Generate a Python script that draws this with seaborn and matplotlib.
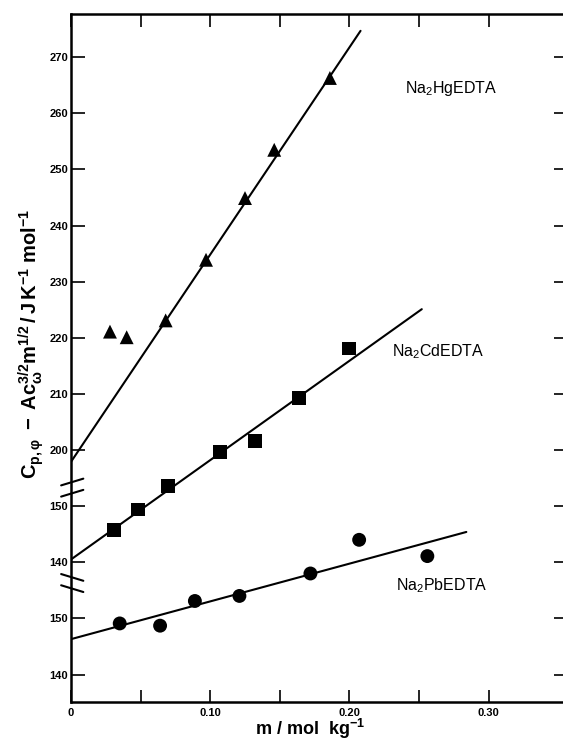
import numpy as np
import pandas as pd
import seaborn as sns
import matplotlib.pyplot as plt
from matplotlib.ticker import FixedLocator, NullFormatter

# data (m in mol/kg, Cp values on each series' own scale)
hg_m = [0.028, 0.040, 0.068, 0.097, 0.125, 0.146, 0.186]
hg_cp = [221.1, 220.1, 223.1, 233.9, 244.9, 253.5, 266.3]
cd_m = [0.031, 0.048, 0.070, 0.107, 0.132, 0.164, 0.200]
cd_cp = [145.7, 149.4, 153.6, 159.7, 161.6, 169.2, 178.1]
pb_m = [0.035, 0.064, 0.089, 0.121, 0.172, 0.207, 0.256]
pb_cp = [149.1, 148.7, 153.1, 154.0, 158.0, 164.0, 161.1]

# fitted straight lines (end points)
hg_fit_m = [0.0, 0.208]
hg_fit_cp = [197.9, 274.7]
cd_fit_m = [0.0, 0.252]
cd_fit_cp = [140.5, 185.1]
pb_fit_m = [0.0, 0.284]
pb_fit_cp = [146.3, 165.4]

# broken axis: each series is shifted onto the common drawing scale
offset = {'Hg': 0, 'Cd': 40, 'Pb': 20}

ytick_pos = [160, 170, 180, 190, 200, 210, 220, 230, 240, 250, 260, 270]
ytick_lab = ['140', '150', '140', '150', '200', '210', '220', '230', '240', '250', '260', '270']

pts = pd.concat([
    pd.DataFrame({'m': hg_m, 'cp': np.array(hg_cp) + offset['Hg'], 's': 'Hg'}),
    pd.DataFrame({'m': cd_m, 'cp': np.array(cd_cp) + offset['Cd'], 's': 'Cd'}),
    pd.DataFrame({'m': pb_m, 'cp': np.array(pb_cp) + offset['Pb'], 's': 'Pb'}),
])
fits = pd.concat([
    pd.DataFrame({'m': hg_fit_m, 'cp': np.array(hg_fit_cp) + offset['Hg'], 's': 'Hg'}),
    pd.DataFrame({'m': cd_fit_m, 'cp': np.array(cd_fit_cp) + offset['Cd'], 's': 'Cd'}),
    pd.DataFrame({'m': pb_fit_m, 'cp': np.array(pb_fit_cp) + offset['Pb'], 's': 'Pb'}),
])

sns.set_style('ticks')
plt.rcParams['font.family'] = ['Liberation Sans', 'DejaVu Sans']
plt.rcParams['mathtext.fontset'] = 'custom'
plt.rcParams['mathtext.rm'] = 'Liberation Sans'
plt.rcParams['mathtext.it'] = 'Liberation Sans:italic'
plt.rcParams['mathtext.bf'] = 'Liberation Sans:bold'
plt.rcParams['text.color'] = 'black'
plt.rcParams['axes.labelcolor'] = 'black'
plt.rcParams['xtick.color'] = 'black'
plt.rcParams['ytick.color'] = 'black'

fig = plt.figure(figsize=(5.63, 7.45), dpi=100)
ax = fig.add_axes([71 / 563, 1 - 702 / 745, (564 - 71) / 563, (702 - 14) / 745])

sns.lineplot(data=fits, x='m', y='cp', units='s', estimator=None, color='black',
             linewidth=1.5, ax=ax, sort=False)
sns.scatterplot(data=pts, x='m', y='cp', style='s', markers={'Hg': '^', 'Cd': 's', 'Pb': 'o'},
                color='black', s=100, linewidth=0, legend=False, ax=ax)

ax.set_xlim(0, (564 - 71) / 1392)
ax.set_ylim(155.1, 277.7)

# axis frame
for side in ['left', 'top', 'bottom']:
    ax.spines[side].set_linewidth(1.8)
    ax.spines[side].set_color('black')
ax.spines['right'].set_visible(False)

ax.xaxis.set_major_locator(FixedLocator([0, 0.10, 0.20, 0.30]))
ax.set_xticklabels(['0', '0.10', '0.20', '0.30'])
ax.xaxis.set_minor_locator(FixedLocator([0.05, 0.15, 0.25]))
ax.xaxis.set_minor_formatter(NullFormatter())
ax.tick_params(axis='x', which='both', direction='in', length=9, width=1.2,
               top=True, bottom=True, labelsize=8, pad=4)
ax.set_yticks(ytick_pos)
ax.set_yticklabels(ytick_lab)
ax.tick_params(axis='y', direction='in', length=10, width=1.2, labelsize=8, pad=2)
for lab in ax.get_xticklabels() + ax.get_yticklabels():
    lab.set_fontweight('bold')

# short ticks on the right edge
ax2 = ax.twinx()
ax2.set_ylim(ax.get_ylim())
ax2.set_yticks(ytick_pos)
ax2.set_yticklabels([])
ax2.tick_params(axis='y', direction='in', length=7, width=1.2)
for side in ['left', 'top', 'bottom', 'right']:
    ax2.spines[side].set_visible(False)

# break marks on the y axis
tr = ax.get_yaxis_transform()
for yb, sl in [(193.3, 1), (176.3, -1)]:
    for dy in (-1.0, 1.0):
        ax.plot([-0.02, 0.025], [yb + dy - sl * 0.6, yb + dy + sl * 0.6], color='black',
                linewidth=1.5, transform=tr, clip_on=False)

ax.text(0.273, 264.5, r'Na$_2$HgEDTA', ha='center', va='center', fontsize=11.5)
ax.text(0.264, 217.5, r'Na$_2$CdEDTA', ha='center', va='center', fontsize=11.5)
ax.text(0.266, 175.9, r'Na$_2$PbEDTA', ha='center', va='center', fontsize=11.5)

ax.set_xlabel(r'm / mol  kg$^{\mathbf{-1}}$', fontsize=13, fontweight='bold')
ax.xaxis.set_label_coords(0.485, -0.022)
ax.set_ylabel(r'$\mathbf{C_{p,φ}\ -\ A c_{ω}^{3/2} m^{1/2} \,/\, J\,K^{-1}\ mol^{-1}}$', fontsize=14.5)
ax.yaxis.set_label_coords(-0.05, 0.52)

plt.savefig('out.png', dpi=100)
